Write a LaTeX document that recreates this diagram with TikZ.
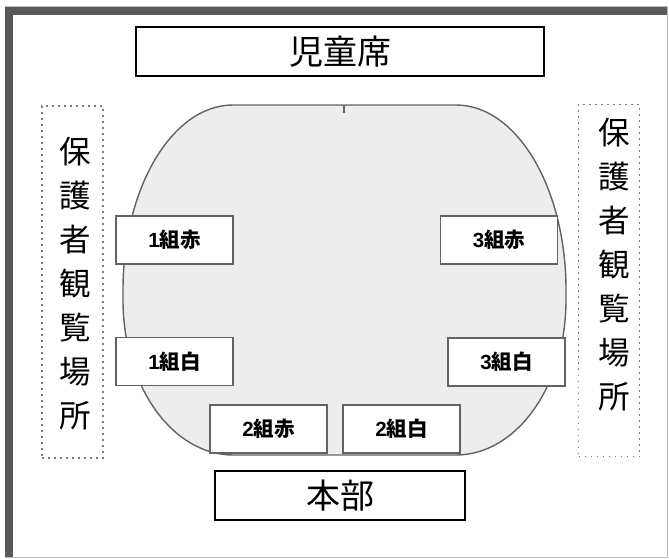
\documentclass[tikz,border=0pt]{standalone}
\usepackage{fontspec}
\newfontfamily\jp{Noto Sans CJK JP}
\newfontfamily\digitfont{Liberation Sans}
\usetikzlibrary{arrows,shapes}
\definecolor{framegray}{HTML}{595959}
\definecolor{edgegray}{HTML}{BDBDBD}
\definecolor{linegray}{HTML}{626262}
\definecolor{fieldgray}{HTML}{EDEDED}
\definecolor{dotgray}{HTML}{7A7A7A}
\tikzstyle{seat}=[draw=black,line width=1.8pt,minimum height=49pt,inner sep=0pt,font=\jp\fontsize{34}{34}\selectfont]
\tikzstyle{team}=[draw=linegray,fill=white,line width=1.8pt,minimum width=117pt,minimum height=48pt,inner sep=0pt,font=\jp\bfseries\fontsize{20.5}{20.5}\selectfont]
\tikzstyle{stand}=[draw=dotgray,line width=1.6pt,dash pattern=on 1.6pt off 4.4pt,minimum width=61pt,minimum height=352pt,inner sep=0pt]
\tikzstyle{standtext}=[align=center,inner sep=0pt,font=\jp\fontsize{31.5}{43.9}\selectfont]

\begin{document}
\begin{tikzpicture}[x=1pt,y=1pt]
    \useasboundingbox (0,0) rectangle (669,558);
    % Outer frame
    \draw[edgegray,line width=1pt] (5,1) rectangle (667,551);
    \fill[framegray] (5,551) rectangle (667,543);
    \fill[framegray] (5,551) rectangle (13,1);

    % The field
    \coordinate (mark) at (344,453);
    \draw[linegray,fill=fieldgray,line width=1.4pt] (mark) -- (456,453)
        arc[start angle=90,end angle=0,x radius=110,y radius=185] -- (566,258)
        arc[start angle=0,end angle=-90,x radius=110,y radius=155] -- (233,103)
        arc[start angle=270,end angle=180,x radius=110,y radius=155] -- (123,268)
        arc[start angle=180,end angle=90,x radius=110,y radius=185] -- cycle;
    \coordinate (markend) at (344,445);
    \draw[linegray,line width=1.4pt] (mark) -- (markend);

    % Seats at top and bottom
    \node[seat,minimum width=408pt] (children) at (340,506.5) {児童席};
    \node[seat,minimum width=250pt] (hq) at (340,62.5) {本部};

    % Spectator areas
    \node[stand] (leftstand) at (72.5,276) {};
    \node[stand] (rightstand) at (609,277.5) {};
    \node[standtext] (lefttext) at (75,274.5) {保\\護\\者\\観\\覧\\場\\所};
    \node[standtext] (righttext) at (614,293.5) {保\\護\\者\\観\\覧\\場\\所};

    % Then the class boxes
    \foreach \pos/\name/\num/\txt in {{(174.5,318)/red1/1/組赤}, {(174.5,196.5)/white1/1/組白},
        {(268.5,129)/red2/2/組赤}, {(401.5,129)/white2/2/組白},
        {(499,318)/red3/3/組赤}, {(506.5,196)/white3/3/組白}}
        \node[team] (\name) at \pos {{\digitfont\bfseries\num}\txt};
\end{tikzpicture}
\end{document}
